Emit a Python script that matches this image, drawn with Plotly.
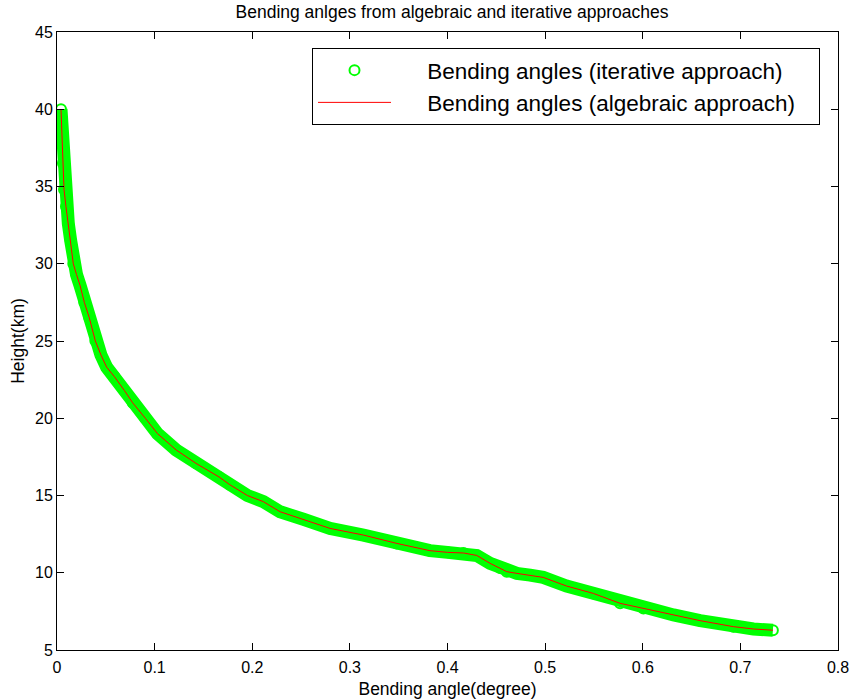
import plotly.graph_objects as go

# Data (bending angle in degrees, height in km)
bending_angle = [0.0041, 0.0050, 0.0061, 0.0072, 0.0092, 0.0116, 0.0140, 0.0167, 0.0200, 0.0236,
                 0.0280, 0.0331, 0.0393, 0.0450, 0.0509, 0.0587, 0.0690, 0.0775, 0.0905, 0.1030,
                 0.1220, 0.1424, 0.1660, 0.1770, 0.1950, 0.2114, 0.2285, 0.2524, 0.2797, 0.3139,
                 0.3480, 0.3820, 0.4000, 0.4163, 0.4300, 0.4436, 0.4539, 0.4607, 0.4710, 0.4846,
                 0.4980, 0.5220, 0.5495, 0.5768, 0.6007, 0.6315, 0.6588, 0.6929, 0.7134, 0.7333]
height_km = [40.0, 38.6, 36.5, 34.8, 33.7, 32.6, 31.5, 30.0, 29.3, 28.6,
             27.5, 26.5, 25.0, 24.1, 23.3, 22.7, 21.8, 21.0, 20.0, 19.0,
             17.95, 17.08, 16.2, 15.7, 15.0, 14.6, 13.95, 13.46, 12.87, 12.44,
             11.9, 11.43, 11.32, 11.28, 11.12, 10.61, 10.3, 10.07, 9.96, 9.85,
             9.7, 9.14, 8.66, 8.02, 7.69, 7.27, 6.9, 6.51, 6.36, 6.28]

x_ticks = [0, 0.1, 0.2, 0.3, 0.4, 0.5, 0.6, 0.7, 0.8]
x_tick_labels = ["0", "0.1", "0.2", "0.3", "0.4", "0.5", "0.6", "0.7", "0.8"]
y_ticks = [5, 10, 15, 20, 25, 30, 35, 40, 45]
y_tick_labels = ["5", "10", "15", "20", "25", "30", "35", "40", "45"]

name_iter = "Bending angles (iterative approach)"
name_alg = "Bending angles (algebraic approach)"

FONT = "Liberation Sans, Arial, Helvetica, sans-serif"
GREEN = "#00ff00"
RED = "#ff0000"
NB = "\u00a0"

fig = go.Figure()
# dense band of circle markers (iterative approach)
fig.add_trace(go.Scatter(x=bending_angle, y=height_km, mode="lines",
                         line=dict(color=GREEN, width=13), showlegend=False,
                         hoverinfo="skip"))
fig.add_trace(go.Scatter(x=bending_angle, y=height_km, mode="markers",
                         name=NB * 5 + name_iter + NB * 3,
                         marker=dict(symbol="circle-open", size=10, color=GREEN,
                                     line=dict(color=GREEN, width=2))))
# algebraic approach line
fig.add_trace(go.Scatter(x=bending_angle, y=height_km, mode="lines",
                         name=NB * 5 + name_alg + NB * 3,
                         line=dict(color=RED, width=1)))

axis_common = dict(showline=True, linecolor="black", linewidth=1, mirror="ticks",
                   ticks="inside", ticklen=7, tickwidth=1, tickcolor="black",
                   showgrid=False, zeroline=False, automargin=False,
                   tickfont=dict(family=FONT, size=16, color="black"))

fig.update_layout(
    width=856, height=699,
    margin=dict(l=57, r=18, t=32, b=49),
    paper_bgcolor="white", plot_bgcolor="white",
    font=dict(family=FONT, color="black"),
    title=dict(text="Bending anlges from algebraic and iterative approaches",
               x=(452 - 57) / 781, xref="paper", xanchor="center",
               y=1 - 12 / 699, yref="container", yanchor="middle",
               font=dict(family=FONT, size=17.5, color="black")),
    xaxis=dict(range=[0, 0.8], tickvals=x_ticks, ticktext=x_tick_labels,
               ticklabelstandoff=3,
               title=dict(text="Bending angle(degree)", standoff=7,
                          font=dict(family=FONT, size=17.5, color="black")),
               **axis_common),
    yaxis=dict(range=[5, 45], tickvals=y_ticks, ticktext=y_tick_labels,
               title=dict(text="Height(km)", standoff=5,
                          font=dict(family=FONT, size=17.5, color="black")),
               **axis_common),
    legend=dict(x=(820 - 57) / 781, xanchor="right", y=(650 - 48) / 618, yanchor="top",
                bgcolor="white", bordercolor="black", borderwidth=1,
                font=dict(family=FONT, size=22.5, color="black"),
                itemwidth=73, tracegroupgap=0),
)

fig.write_html("out.html")
